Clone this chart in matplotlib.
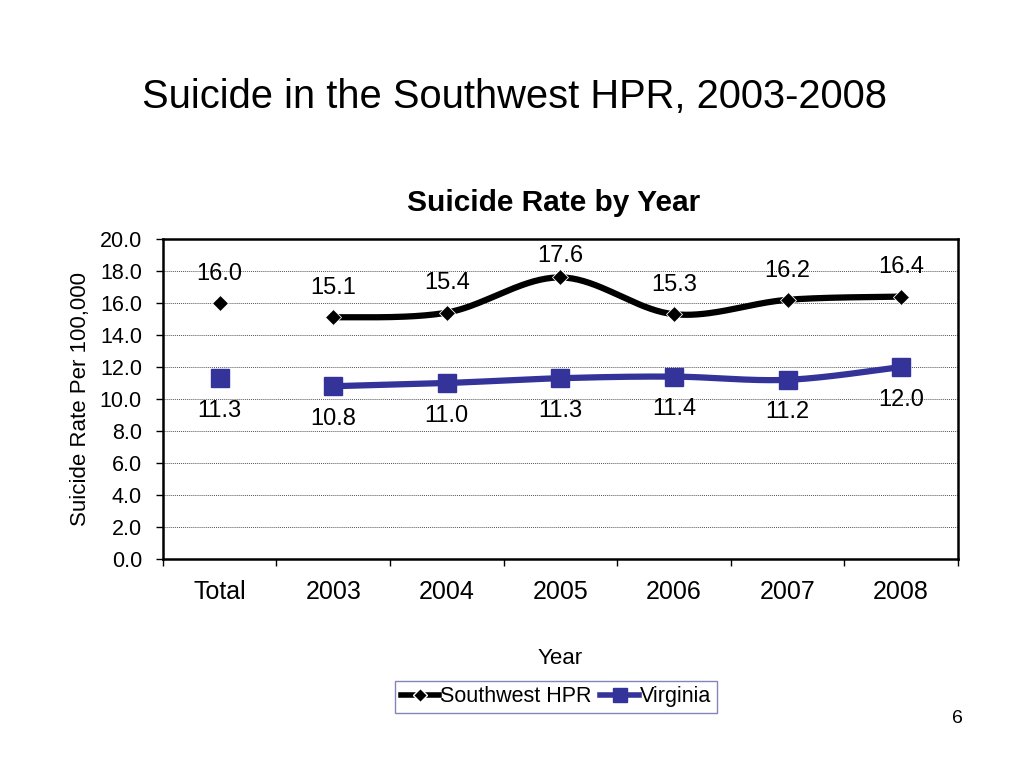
import numpy as np
import matplotlib
matplotlib.use("Agg")
import matplotlib.pyplot as plt
from matplotlib.lines import Line2D

plt.rcParams['font.family'] = ['Liberation Sans', 'DejaVu Sans']

categories = ["Total", "2003", "2004", "2005", "2006", "2007", "2008"]
southwest = [16.0, 15.1, 15.4, 17.6, 15.3, 16.2, 16.4]
virginia = [11.3, 10.8, 11.0, 11.3, 11.4, 11.2, 12.0]
y_ticks = np.arange(0, 20.1, 2.0)

BLUE = "#333399"


def smooth(xs, ys, n=40):
    """Catmull-Rom curve through the points (like Excel's smoothed line)."""
    p = np.column_stack([xs, ys]).astype(float)
    p = np.vstack([p[0], p, p[-1]])
    out = []
    t = np.linspace(0, 1, n)[:, None]
    for i in range(1, len(p) - 2):
        p0, p1, p2, p3 = p[i - 1], p[i], p[i + 1], p[i + 2]
        seg = 0.5 * ((2 * p1) + (-p0 + p2) * t + (2 * p0 - 5 * p1 + 4 * p2 - p3) * t ** 2
                     + (-p0 + 3 * p1 - 3 * p2 + p3) * t ** 3)
        out.append(seg)
    out = np.vstack(out)
    return out[:, 0], out[:, 1]


fig = plt.figure(figsize=(10.24, 7.68), dpi=100)
ax = fig.add_axes([0.159, 0.2721, 0.7765, 0.4167])

x = np.arange(len(categories))

# lines only over the yearly values, Total is a lone marker
sx, sy = smooth(x[1:], southwest[1:])
ax.plot(sx, sy, color="black", lw=4.5, solid_capstyle="round", zorder=3)
ax.plot(x, southwest, ls="none", marker="D", ms=8, mfc="black", mec="white",
        mew=0.6, zorder=4)

vx, vy = smooth(x[1:], virginia[1:])
ax.plot(vx, vy, color=BLUE, lw=4.5, solid_capstyle="round", zorder=3)
ax.plot(x, virginia, ls="none", marker="s", ms=13, mfc=BLUE, mec=BLUE, zorder=4)

# labels above; keep them inside the plot area near the top (like Excel)
for xi, v in zip(x, southwest):
    room = (20.0 - v) * 16 * 0.72 - 12   # px-to-pt, minus half label height
    dy = min(21, max(room, 14))
    ax.annotate(f"{v:.1f}", (xi, v), xytext=(0, dy), textcoords="offset points",
                ha="center", va="center", fontsize=17)
for xi, v in zip(x, virginia):
    ax.annotate(f"{v:.1f}", (xi, v), xytext=(0, -23.5), textcoords="offset points",
                ha="center", va="center", fontsize=17)

ax.set_xlim(-0.5, len(categories) - 0.5)
ax.set_ylim(0, 20)
ax.set_yticks(y_ticks)
ax.set_yticklabels([f"{t:.1f}" for t in y_ticks], fontsize=15.5)
ax.set_xticks(x)
ax.set_xticklabels(categories, fontsize=18)
ax.set_xticks(np.arange(-0.5, len(categories), 1.0), minor=True)
ax.tick_params(axis="x", which="major", length=0, pad=15)
ax.tick_params(axis="x", which="minor", length=5, width=1, direction="out")
ax.tick_params(axis="y", length=5, width=1, direction="out", pad=10)
ax.grid(axis="y", ls=(0, (1, 1)), color="#555555", lw=0.7)
ax.set_axisbelow(True)
for s in ax.spines.values():
    s.set_linewidth(1.8)

ax.set_ylabel("Suicide Rate Per 100,000", fontsize=16, labelpad=6)
ax.set_xlabel("Year", fontsize=16, labelpad=32)
ax.set_title("Suicide Rate by Year", fontsize=21.5, fontweight="bold", pad=20,
             x=0.491)

fig.text(0.502, 0.874, "Suicide in the Southwest HPR, 2003-2008", ha="center",
         va="center", fontsize=28.7)
fig.text(0.935, 0.065, "6", ha="center", va="center", fontsize=14)

handles = [
    Line2D([], [], color="black", lw=4, marker="D", ms=7, mfc="black", mec="white"),
    Line2D([], [], color=BLUE, lw=4, marker="s", ms=10, mfc=BLUE, mec=BLUE),
]
leg = fig.legend(handles, ["Southwest HPR", "Virginia"], loc="center",
                 bbox_to_anchor=(0.543, 0.0925), ncol=2, fontsize=15.5,
                 frameon=True, fancybox=False, handlelength=1.8,
                 handletextpad=0.05, columnspacing=0.4, borderpad=0.25,
                 borderaxespad=0.0)
leg.get_frame().set_edgecolor("#6666aa")
leg.get_frame().set_linewidth(1.0)

fig.savefig("out.png", dpi=100)
